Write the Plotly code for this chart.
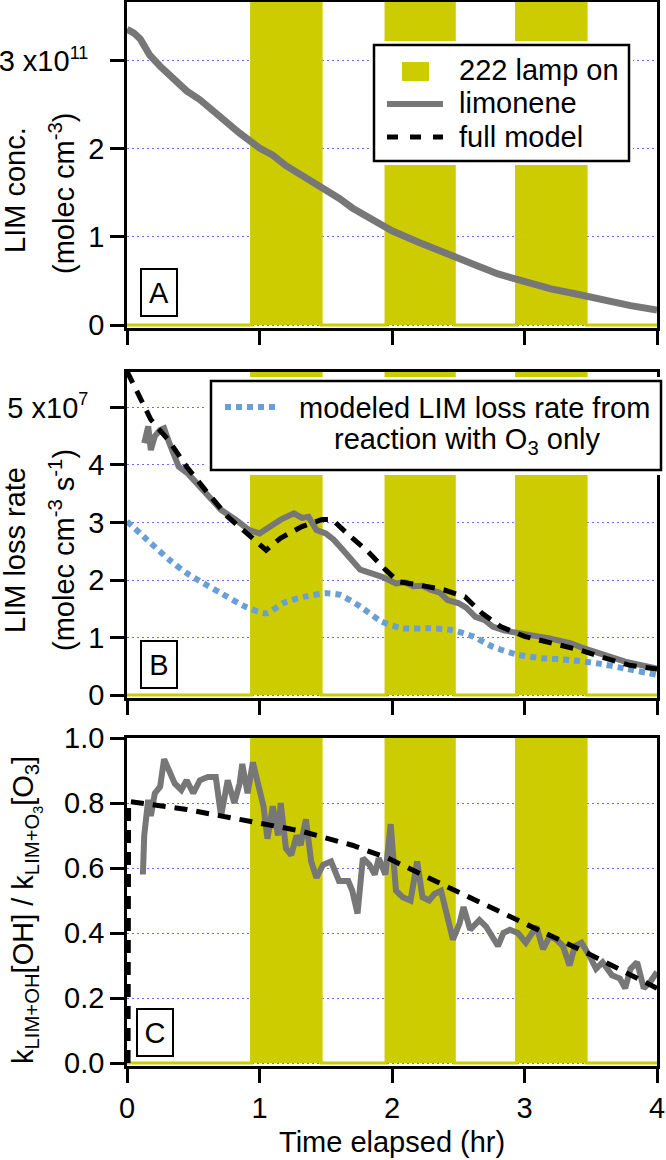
import plotly.graph_objects as go

# ---------------- data ----------------
# lamp (222 nm) state: 1 = on, 0 = off (step function)
lamp_t = [0.0, 0.94, 1.465, 1.955, 2.47, 2.94, 3.465, 4.0]
lamp_on = [0, 1, 0, 1, 0, 1, 0, 0]
LAMP_TOP = 1000.0  # "on" drawn far beyond every axis range

# Panel A: limonene concentration (units of 1e11 molec cm^-3)
limA_t = [0.0, 0.05, 0.1, 0.17, 0.25, 0.35, 0.45, 0.55, 0.65, 0.75, 0.85, 1.0, 1.1, 1.2, 1.3,
          1.4, 1.5, 1.6, 1.7, 1.8, 1.9, 2.0, 2.2, 2.4, 2.6, 2.8, 3.0, 3.2, 3.4, 3.6, 3.8, 4.0]
limA_v = [3.36, 3.32, 3.25, 3.07, 2.94, 2.80, 2.66, 2.56, 2.43, 2.31, 2.18, 2.01, 1.93, 1.81, 1.72,
          1.62, 1.52, 1.44, 1.33, 1.25, 1.15, 1.07, 0.94, 0.81, 0.70, 0.58, 0.49, 0.41, 0.35, 0.28, 0.22, 0.17]

# Panel B: LIM loss rate (units of 1e7 molec cm^-3 s^-1)
limB_t = [0.13, 0.16, 0.18, 0.21, 0.25, 0.28, 0.32, 0.39, 0.46, 0.53, 0.63, 0.71, 0.82, 0.92, 1.0,
          1.08, 1.16, 1.26, 1.32, 1.37, 1.43, 1.5, 1.56, 1.63, 1.7, 1.76, 1.84, 1.92, 2.03, 2.1, 2.16,
          2.23, 2.29, 2.36, 2.42, 2.5, 2.56, 2.63, 2.7, 2.76, 2.85, 2.95, 3.02, 3.1, 3.18, 3.26, 3.35,
          3.45, 3.53, 3.61, 3.69, 3.76, 3.88, 4.0]
limB_v = [4.38, 4.67, 4.26, 4.50, 4.61, 4.64, 4.38, 3.97, 3.85, 3.68, 3.45, 3.22, 3.05, 2.87, 2.81,
          2.93, 3.05, 3.16, 3.08, 3.10, 2.87, 2.81, 2.70, 2.52, 2.35, 2.18, 2.12, 2.06, 1.94, 1.96, 1.89,
          1.90, 1.83, 1.78, 1.65, 1.60, 1.52, 1.36, 1.30, 1.19, 1.12, 1.07, 1.04, 1.02, 0.99, 0.96, 0.90,
          0.81, 0.75, 0.67, 0.63, 0.58, 0.52, 0.46]
modelB_t = [0.0, 0.18, 0.32, 0.45, 0.61, 0.76, 0.89, 1.05, 1.16, 1.32, 1.47, 1.55, 1.66, 1.82, 1.95,
            2.05, 2.21, 2.39, 2.55, 2.68, 2.82, 3.0, 3.21, 3.42, 3.61, 3.79, 4.0]
modelB_v = [5.63, 4.79, 4.41, 3.97, 3.51, 3.10, 2.84, 2.52, 2.73, 2.93, 3.05, 3.05, 2.81, 2.49, 2.18,
            1.97, 1.91, 1.83, 1.71, 1.42, 1.19, 1.02, 0.90, 0.78, 0.64, 0.52, 0.45]
o3B_t = [0.0, 0.18, 0.32, 0.45, 0.58, 0.71, 0.89, 1.05, 1.18, 1.34, 1.5, 1.61, 1.76, 1.92, 2.08,
         2.29, 2.45, 2.61, 2.76, 2.95, 3.13, 3.34, 3.55, 3.76, 4.0]
o3B_v = [3.02, 2.64, 2.35, 2.12, 1.94, 1.77, 1.54, 1.42, 1.60, 1.71, 1.77, 1.74, 1.54, 1.28, 1.16,
         1.16, 1.13, 1.02, 0.84, 0.70, 0.64, 0.61, 0.55, 0.46, 0.35]

# Panel C: k_LIM+OH[OH] / k_LIM+O3[O3]
ratC_t = [0.12, 0.13, 0.16, 0.18, 0.21, 0.25, 0.28, 0.32, 0.36, 0.41, 0.45, 0.50, 0.55, 0.61, 0.67,
          0.71, 0.76, 0.81, 0.85, 0.87, 0.91, 0.95, 0.99, 1.03, 1.06, 1.10, 1.14, 1.16, 1.20, 1.24,
          1.28, 1.31, 1.35, 1.39, 1.43, 1.48, 1.54, 1.60, 1.67, 1.70, 1.74, 1.78, 1.83, 1.87, 1.90,
          1.95, 1.99, 2.03, 2.08, 2.14, 2.19, 2.23, 2.28, 2.32, 2.37, 2.42, 2.46, 2.51, 2.54, 2.59,
          2.66, 2.71, 2.76, 2.80, 2.84, 2.89, 2.95, 3.01, 3.09, 3.14, 3.19, 3.24, 3.29, 3.34, 3.38,
          3.43, 3.49, 3.54, 3.59, 3.66, 3.72, 3.76, 3.80, 3.85, 3.90, 3.95, 4.0]
ratC_v = [0.58, 0.70, 0.81, 0.76, 0.83, 0.85, 0.935, 0.90, 0.86, 0.84, 0.87, 0.83, 0.87, 0.88, 0.88,
          0.76, 0.87, 0.80, 0.86, 0.92, 0.83, 0.925, 0.85, 0.79, 0.69, 0.79, 0.70, 0.80, 0.66, 0.64,
          0.70, 0.67, 0.75, 0.62, 0.57, 0.61, 0.62, 0.56, 0.56, 0.53, 0.46, 0.63, 0.61, 0.58, 0.63,
          0.58, 0.735, 0.53, 0.51, 0.50, 0.62, 0.51, 0.50, 0.52, 0.53, 0.44, 0.38, 0.43, 0.48, 0.41,
          0.44, 0.42, 0.39, 0.36, 0.40, 0.41, 0.40, 0.37, 0.42, 0.35, 0.39, 0.38, 0.36, 0.30, 0.36,
          0.37, 0.33, 0.29, 0.31, 0.27, 0.26, 0.23, 0.29, 0.31, 0.23, 0.25, 0.28]
modelC_t = [0.008, 0.012, 0.45, 0.95, 1.30, 1.70, 1.97, 2.48, 2.99, 3.49, 4.0]
modelC_v = [0.0, 0.805, 0.78, 0.74, 0.715, 0.67, 0.63, 0.53, 0.43, 0.335, 0.23]

SUPEXP = "<sup><span style='font-size:18px'>{}</span></sup>"
yticksA = [0, 1, 2, 3]
yticksA_text = ["0", "1", "2", "3 x10" + SUPEXP.format("11") + "\u00a0\u00a0"]
yticksB = [0, 1, 2, 3, 4, 5]
yticksB_text = ["0", "1", "2", "3", "4", "5 x10" + SUPEXP.format("7") + "\u00a0\u00a0"]
yticksC = [0, 0.2, 0.4, 0.6, 0.8, 1.0]
yticksC_text = ["0.0", "0.2", "0.4", "0.6", "0.8", "1.0"]
xticks = [0, 1, 2, 3, 4]

# ---------------- styling ----------------
FONT = "Liberation Sans, Arial, sans-serif"
FS = 29
YELLOW = "#cccc00"
GREY = "#777777"
BLUE = "#6a9fd6"
GRID = "#6a6aff"

W, H = 666, 1160
ML, MR, MT, MB = 127, 9, 2, 94
PW = W - ML - MR
PH = H - MT - MB


def px(xp):
    return (xp - ML) / PW


def py(yp):
    return (H - MB - yp) / PH


fig = go.Figure()
lamp_y = [s * LAMP_TOP for s in lamp_on]
for k in ["", "2", "3"]:
    fig.add_trace(go.Scatter(x=lamp_t, y=lamp_y, mode="lines", line=dict(color=YELLOW, width=3, shape="hv"),
                             fill="tozeroy", fillcolor=YELLOW, xaxis="x" + k, yaxis="y" + k,
                             showlegend=False, hoverinfo="skip"))

fig.add_trace(go.Scatter(x=limA_t, y=limA_v, mode="lines", line=dict(color=GREY, width=7),
                         xaxis="x", yaxis="y", showlegend=False))

fig.add_trace(go.Scatter(x=o3B_t, y=o3B_v, mode="lines", line=dict(color=BLUE, width=6, dash="6px,5px", shape="spline", smoothing=0.6),
                         xaxis="x2", yaxis="y2", showlegend=False))
fig.add_trace(go.Scatter(x=limB_t, y=limB_v, mode="lines", line=dict(color=GREY, width=6),
                         xaxis="x2", yaxis="y2", showlegend=False))
fig.add_trace(go.Scatter(x=modelB_t, y=modelB_v, mode="lines", line=dict(color="black", width=5, dash="13px,9px"),
                         xaxis="x2", yaxis="y2", showlegend=False))

fig.add_trace(go.Scatter(x=ratC_t, y=ratC_v, mode="lines", line=dict(color=GREY, width=6),
                         xaxis="x3", yaxis="y3", showlegend=False))
fig.add_trace(go.Scatter(x=modelC_t, y=modelC_v, mode="lines", line=dict(color="black", width=5, dash="13px,9px"),
                         xaxis="x3", yaxis="y3", showlegend=False))


def xax(anchor, labels):
    return dict(anchor=anchor, domain=[0, 1], range=[0, 4], tickvals=xticks, ticks="outside", ticklen=14,
                tickwidth=2.5, tickcolor="black", showline=True, linewidth=2.5, linecolor="black", mirror=True,
                showgrid=False, zeroline=False, showticklabels=labels, automargin=False,
                tickfont=dict(family=FONT, size=FS, color="black"))


def yax(anchor, dom, rng, tv, tt):
    return dict(anchor=anchor, domain=dom, range=rng, tickvals=tv, ticktext=tt, ticks="outside", ticklen=14,
                tickwidth=2.5, tickcolor="black", showline=True, linewidth=2.5, linecolor="black", mirror=True,
                showgrid=True, gridcolor=GRID, gridwidth=1, griddash="2px,3px", zeroline=False, automargin=False,
                tickfont=dict(family=FONT, size=FS, color="black"))


fig.update_layout(
    width=W, height=H, margin=dict(l=ML, r=MR, t=MT, b=MB, autoexpand=False),
    paper_bgcolor="white", plot_bgcolor="white", showlegend=False,
    font=dict(family=FONT, size=FS, color="black"),
    xaxis=xax("y", False), xaxis2=xax("y2", False), xaxis3=xax("y3", True),
    yaxis=yax("x", [py(328), py(2)], [-0.034, 3.670], yticksA, yticksA_text),
    yaxis2=yax("x2", [py(698), py(372)], [-0.052, 5.617], yticksB, yticksB_text),
    yaxis3=yax("x3", [py(1066), py(738)], [-0.0092, 1.0], yticksC, yticksC_text),
)

shapes = []


def rect(x0, y0, x1, y1, fill=None, lw=0, lc="black"):
    shapes.append(dict(type="rect", xref="paper", yref="paper", x0=px(x0), x1=px(x1), y0=py(y1), y1=py(y0),
                       fillcolor=fill if fill else "rgba(0,0,0,0)", line=dict(width=lw, color=lc), layer="above"))


def seg(x0, y0, x1, y1, color, width, dash="solid"):
    shapes.append(dict(type="line", xref="paper", yref="paper", x0=px(x0), x1=px(x1), y0=py(y0), y1=py(y1),
                       line=dict(color=color, width=width, dash=dash), layer="above"))


# legend panel A
rect(370, 41, 633, 165, fill="white")
rect(374, 45, 629, 161, lw=2.5)
rect(402, 62, 429, 81, fill=YELLOW)
seg(387, 104, 443, 104, GREY, 6)
seg(387, 137, 443, 137, "black", 5, "11px,12px")
# legend panel B
rect(207, 377, 666, 475, fill="white")
rect(211, 381, 661, 470, lw=2.5)
seg(225, 407, 280, 407, BLUE, 6, "6px,5px")

fig.update_layout(shapes=shapes)

ann = []


def text(x, y, s, xanchor="center", angle=0, size=FS, **kw):
    ann.append(dict(x=px(x), y=py(y), xref="paper", yref="paper", text=s, showarrow=False, xanchor=xanchor,
                    yanchor="middle", textangle=angle, font=dict(family=FONT, size=size, color="black"), **kw))


text(457, 70, "222 lamp on", "left")
text(457, 103, "limonene", "left")
text(457, 137, "full model", "left")
text(474, 408, "modeled LIM loss rate from")
text(467, 441, "reaction with O<sub>3</sub> only")

for lab, cx, cy in [("A", 158.5, 292.5), ("B", 158.5, 664), ("C", 155, 1032)]:
    text(cx, cy, lab, bordercolor="black", borderwidth=2, borderpad=0, width=34, height=45)

text(15, 190, "LIM conc.", angle=-90)
text(62, 194, "(molec cm<sup>-3</sup>)", angle=-90)
text(15, 550, "LIM loss rate", angle=-90)
text(62, 550, "(molec cm<sup>-3</sup> s<sup>-1</sup>)", angle=-90)
text(26, 910, "k<sub>LIM+OH</sub>[OH] / k<sub>LIM+O<sub>3</sub></sub>[O<sub>3</sub>]", angle=-90)
text(392, 1142, "Time elapsed (hr)")

fig.update_layout(annotations=ann)
fig.write_html("out.html", config={"displayModeBar": False},
               post_script="document.body.style.margin='0px';")
